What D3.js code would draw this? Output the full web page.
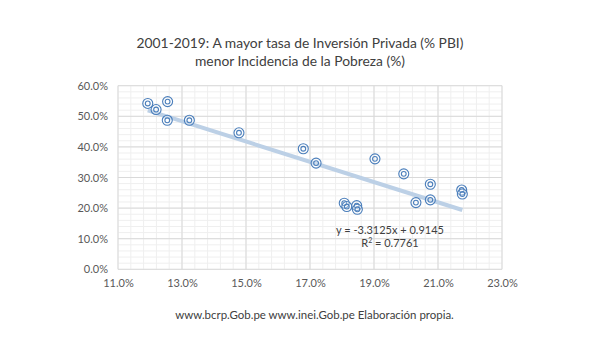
<!DOCTYPE html>
<html><head><meta charset="utf-8">
<script src="https://cdn.jsdelivr.net/npm/d3@7/dist/d3.min.js"></script>
<style>body{margin:0;background:#fff}svg{display:block}text{font-family:Lato,"Open Sans",sans-serif}</style>
</head><body>
<svg id="c" width="602" height="339"></svg>
<script>
const years = [2001,2002,2003,2004,2005,2006,2007,2008,2009,2010,2011,2012,2013,2014,2015,2016,2017,2018,2019];
const inversion = [11.93,12.55,12.19,12.54,13.23,14.78,16.79,17.19,19.03,19.93,20.76,21.74,21.76,20.76,20.31,18.07,18.15,18.46,18.48];
const pobreza   = [54.2,54.8,52.2,48.7,48.7,44.6,39.4,34.7,36.1,31.2,27.8,25.9,24.6,22.7,21.8,21.6,20.5,20.8,19.6];
const xTicks = [11,13,15,17,19,21,23];
const yTicks = [0,10,20,30,40,50,60];
const slope = -3.3125, intercept = 0.9145, r2 = 0.7761;
const titleLines = ["2001-2019: A mayor tasa de Inversión Privada (% PBI)","menor Incidencia de la Pobreza (%)"];
const footer = "www.bcrp.Gob.pe www.inei.Gob.pe Elaboración propia.";

const svg = d3.select("#c");
const x = d3.scaleLinear().domain([11,23]).range([118,502]);
const y = d3.scaleLinear().domain([0,60]).range([269.3,85.7]);

// minor grid
const xMinor = d3.range(11,23.001,0.4), yMinor = d3.range(0,60.001,2);
const g = svg.append("g");
g.selectAll(".mx").data(xMinor).join("line").attr("x1",d=>x(d)).attr("x2",d=>x(d)).attr("y1",y(0)).attr("y2",y(60)).attr("stroke","#efefef").attr("stroke-width",1);
g.selectAll(".my").data(yMinor).join("line").attr("y1",d=>y(d)).attr("y2",d=>y(d)).attr("x1",x(11)).attr("x2",x(23)).attr("stroke","#efefef").attr("stroke-width",1);
g.selectAll(".Mx").data(xTicks).join("line").attr("x1",d=>x(d)).attr("x2",d=>x(d)).attr("y1",y(0)).attr("y2",y(60)).attr("stroke","#d9d9d9").attr("stroke-width",1);
g.selectAll(".My").data(yTicks).join("line").attr("y1",d=>y(d)).attr("y2",d=>y(d)).attr("x1",x(11)).attr("x2",x(23)).attr("stroke","#d9d9d9").attr("stroke-width",1);

// axes labels
const xa = svg.append("g").attr("transform",`translate(0,${y(0)})`)
  .call(d3.axisBottom(x).tickValues(xTicks).tickSize(0).tickPadding(10).tickFormat(d=>d.toFixed(1)+"%"));
const ya = svg.append("g").attr("transform",`translate(${x(11)},0)`)
  .call(d3.axisLeft(y).tickValues(yTicks).tickSize(0).tickPadding(10).tickFormat(d=>d.toFixed(1)+"%"));
[xa,ya].forEach(a=>{a.select(".domain").remove();a.selectAll("text").attr("fill","#595959").style("font-size","11px").style("font-family","Lato,sans-serif");});

// trendline
const xmin = d3.min(inversion), xmax = d3.max(inversion);
svg.append("line").attr("x1",x(xmin)).attr("x2",x(xmax))
  .attr("y1",y((slope*xmin/100+intercept)*100)).attr("y2",y((slope*xmax/100+intercept)*100))
  .attr("stroke","#bcd0e6").attr("stroke-width",4).attr("stroke-linecap","butt");

// markers
const pts = svg.append("g").selectAll("g").data(d3.range(years.length)).join("g")
  .attr("transform",i=>`translate(${x(inversion[i])},${y(pobreza[i])})`);
pts.append("circle").attr("r",5).attr("fill","rgba(255,255,255,0.3)").attr("stroke","#4a7ebb").attr("stroke-width",1.1);
pts.append("circle").attr("r",2.4).attr("fill","none").attr("stroke","#4a7ebb").attr("stroke-width",1.1);

// equation
svg.append("text").attr("x",390).attr("y",234).attr("text-anchor","middle").attr("fill","#404040").style("font-size","11px")
  .text(`y = ${slope}x + ${intercept}`);
const r = svg.append("text").attr("x",390).attr("y",247).attr("text-anchor","middle").attr("fill","#404040").style("font-size","11px");
r.append("tspan").text("R");
r.append("tspan").attr("dy",-4).style("font-size","7px").text("2");
r.append("tspan").attr("dy",4).text(` = ${r2}`);

// title
function fit(t, w){ const L=t.node().getComputedTextLength(); const fs=parseFloat(t.style("font-size")); t.style("font-size",(fs*w/L)+"px"); }
const t1 = svg.append("text").attr("x",300).attr("y",48).attr("text-anchor","middle").attr("fill","#404040").style("font-size","15px").text(titleLines[0]);
fit(t1,327);
const fs1 = t1.style("font-size");
svg.append("text").attr("x",300).attr("y",66).attr("text-anchor","middle").attr("fill","#404040").style("font-size",fs1).text(titleLines[1]);
const f = svg.append("text").attr("x",314.5).attr("y",319).attr("text-anchor","middle").attr("fill","#404040").style("font-size","11px").text(footer);
fit(f,279);
</script>
</body></html>
